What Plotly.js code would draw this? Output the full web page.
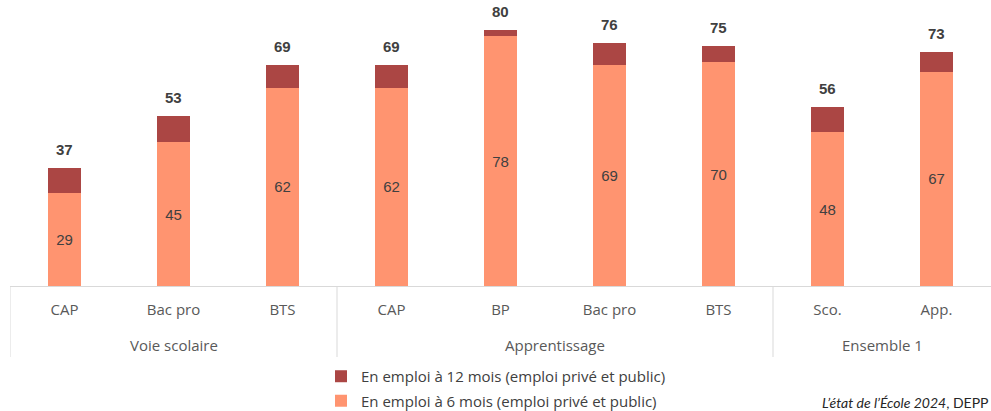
<!DOCTYPE html>
<html>
<head>
<meta charset="utf-8">
<script src="https://cdn.plot.ly/plotly-3.0.1.min.js"></script>
<style>html,body{margin:0;padding:0;background:#fff;}#chart{width:991px;height:411px;}</style>
</head>
<body>
<div id="chart"></div>
<script>
const groups = ['Voie scolaire','Voie scolaire','Voie scolaire','Apprentissage','Apprentissage','Apprentissage','Apprentissage','Ensemble 1','Ensemble 1'];
const categories = ['CAP','Bac pro','BTS','CAP','BP','Bac pro','BTS','Sco.','App.'];
const emploi6 = [29, 45, 62, 62, 78, 69, 70, 48, 67];
const emploi12 = [37, 53, 69, 69, 80, 76, 75, 56, 73];
const legend6 = 'En emploi à 6 mois (emploi privé et public)';
const legend12 = 'En emploi à 12 mois (emploi privé et public)';
const source = '<i>L\u2019état de l\u2019École 2024</i>, DEPP';

const xIdx = categories.map((c, i) => i);
const diff = emploi12.map((v, i) => v - emploi6[i]);

const traces = [
  {
    type: 'bar', x: xIdx, y: emploi6, name: legend6,
    legendgroup: 'six', legendrank: 2,
    marker: {color: '#FF9470'},
    text: emploi6.map(String), textposition: 'inside', insidetextanchor: 'middle',
    textfont: {family: 'Liberation Sans, Arial, sans-serif', size: 15, color: '#404040'},
    constraintext: 'none', hoverinfo: 'y'
  },
  {
    type: 'bar', x: xIdx, y: diff, name: legend12,
    legendgroup: 'twelve', legendrank: 1,
    marker: {color: '#AB4644'},
    textposition: 'none', hoverinfo: 'y'
  }
];

const labelFont = {family: 'Open Sans, sans-serif', size: 15, color: '#595959'};

// total labels above the bars
const annotations = emploi12.map((v, i) => ({
  x: xIdx[i], y: v, xref: 'x', yref: 'y', text: '<b>' + v + '</b>', showarrow: false,
  yanchor: 'bottom', yshift: 8,
  font: {family: 'Liberation Sans, Arial, sans-serif', size: 15, color: '#404040'}
}));

// group labels and dividers
const shapes = [];
const groupNames = [...new Set(groups)];
groupNames.forEach(g => {
  const idx = xIdx.filter(i => groups[i] === g);
  const mid = (idx[0] + idx[idx.length - 1]) / 2;
  annotations.push({
    x: mid, xref: 'x', y: -0.217, yref: 'paper', yanchor: 'middle',
    text: g, showarrow: false, font: labelFont
  });
  shapes.push({
    type: 'line', xref: 'x', yref: 'paper', x0: idx[0] - 0.5, x1: idx[0] - 0.5,
    y0: 0, y1: -0.261, line: {color: '#d9d9d9', width: 1}
  });
});

annotations.push({
  xref: 'paper', yref: 'paper', x: 1, y: -0.43, xanchor: 'right', yanchor: 'middle',
  text: source, showarrow: false,
  font: {family: 'Lato, sans-serif', size: 14, color: '#262626'}
});

const layout = {
  width: 991, height: 411,
  margin: {l: 10, r: 0, t: 14, b: 125, autoexpand: false},
  paper_bgcolor: '#fff', plot_bgcolor: '#fff',
  barmode: 'stack', bargap: 0.7,
  showlegend: true,
  legend: {
    x: 0.317, y: -0.272, xanchor: 'left', yanchor: 'top',
    traceorder: 'grouped', tracegroupgap: 2, maxheight: 300,
    font: {family: 'Open Sans, sans-serif', size: 15, color: '#404040'},
    bgcolor: 'rgba(0,0,0,0)'
  },
  xaxis: {
    type: 'linear', range: [-0.5, 8.5], automargin: false,
    tickmode: 'array', tickvals: xIdx, ticktext: categories,
    showline: true, linecolor: '#d9d9d9', linewidth: 1,
    ticks: '', showgrid: false, zeroline: false, ticklabelstandoff: 10,
    tickfont: labelFont, fixedrange: true
  },
  yaxis: {
    range: [0, 85], visible: false, showgrid: false, zeroline: false, fixedrange: true
  },
  annotations: annotations,
  shapes: shapes
};

Plotly.newPlot('chart', traces, layout, {displayModeBar: false, staticPlot: true});
</script>
</body>
</html>
